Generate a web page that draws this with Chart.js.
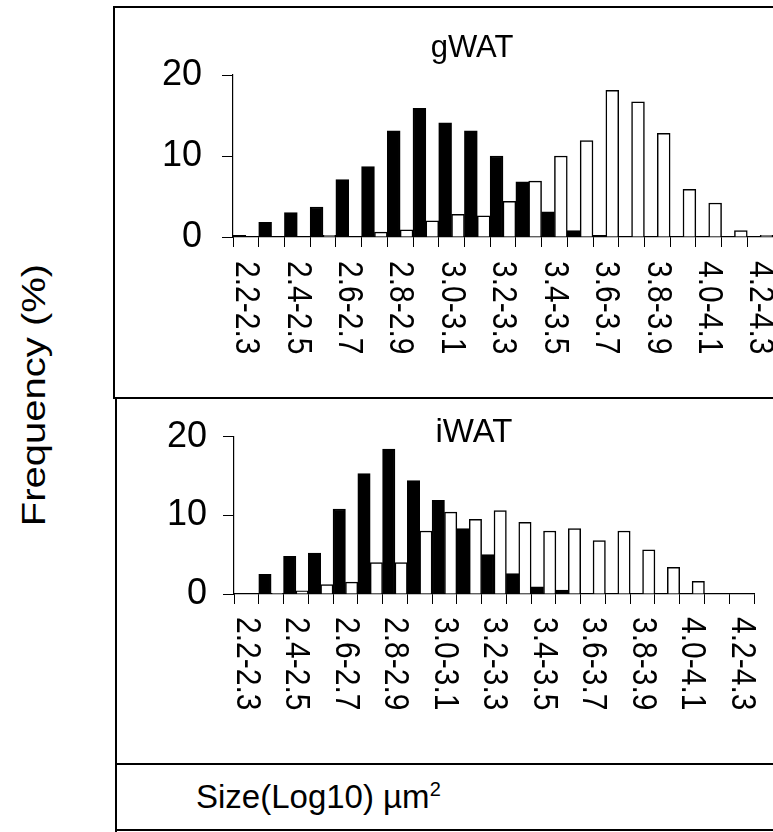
<!DOCTYPE html>
<html>
<head>
<meta charset="utf-8">
<title>Adipocyte size distribution</title>
<script src="https://cdn.jsdelivr.net/npm/chart.js@4.4.1/dist/chart.umd.min.js"></script>
<style>
  body { margin: 0; background: #fff; }
  #page { position: relative; width: 773px; height: 832px; overflow: hidden;
          font-family: "Liberation Sans", Arial, sans-serif; color: #000; }
  .rule { position: absolute; background: #000; }
  canvas { position: absolute; }
  .txt { position: absolute; white-space: nowrap; }
</style>
</head>
<body>
<div id="page">
  <!-- frame -->
  <div class="rule" style="left:113px; top:6px; width:660px; height:2px"></div>
  <div class="rule" style="left:113px; top:6px; width:2px; height:393px"></div>
  <div class="rule" style="left:113px; top:397px; width:660px; height:2px"></div>
  <div class="rule" style="left:115px; top:397px; width:2px; height:435px"></div>
  <div class="rule" style="left:115px; top:763px; width:658px; height:2px"></div>
  <div class="rule" style="left:115px; top:829px; width:658px; height:2px"></div>

  <canvas id="gwatCanvas" width="659" height="389" style="left:115px; top:8px"></canvas>
  <canvas id="iwatCanvas" width="656" height="363" style="left:117px; top:399px"></canvas>

  <div class="txt" style="left:472px; top:31px; font-size:31px; line-height:31px; transform:translateX(-50%)">gWAT</div>
  <div class="txt" style="left:474px; top:414px; font-size:33px; line-height:34px; transform:translateX(-50%)">iWAT</div>
  <div class="txt" style="left:33px; top:395px; font-size:40px; line-height:40px; transform:translate(-50%,-50%) rotate(-90deg) scaleY(0.85)">Frequency (%)</div>
  <div class="txt" style="left:196px; top:780px; font-size:33px; line-height:33px">Size(Log10) µm<sup style="font-size:20px; vertical-align:12px; line-height:0">2</sup></div>
</div>

<script>
const fontFamily = '"Liberation Sans", Arial, sans-serif';

// bins of log10 cell area, every second one is labelled
const binLabels = ['2.2-2.3', '2.3-2.4', '2.4-2.5', '2.5-2.6', '2.6-2.7', '2.7-2.8', '2.8-2.9',
                   '2.9-3.0', '3.0-3.1', '3.1-3.2', '3.2-3.3', '3.3-3.4', '3.4-3.5', '3.5-3.6',
                   '3.6-3.7', '3.7-3.8', '3.8-3.9', '3.9-4.0', '4.0-4.1', '4.1-4.2', '4.2-4.3'];
const labelEvery = 2;
const freqTicks = [0, 10, 20];

// frequency (%) per bin, black and white bars
const gwatBlack = [0.2, 1.8, 3.0, 3.7, 7.1, 8.7, 13.1, 15.9, 14.1, 13.1, 10.0, 6.8, 3.1, 0.8, 0.2, 0, 0, 0, 0, 0, 0];
const gwatWhite = [0, 0, 0, 0.2, 0, 0.6, 0.9, 2.0, 2.8, 2.6, 4.4, 6.9, 10.0, 11.9, 18.1, 16.7, 12.8, 5.9, 4.2, 0.8, 0.2];
const iwatBlack = [0.1, 2.5, 4.8, 5.2, 10.8, 15.3, 18.4, 14.4, 11.9, 8.3, 5.0, 2.6, 0.9, 0.5, 0.1, 0, 0, 0, 0, 0, 0];
const iwatWhite = [0, 0.1, 0.4, 1.2, 1.5, 4.0, 4.0, 8.0, 10.4, 9.5, 10.6, 9.1, 8.0, 8.3, 6.8, 8.0, 5.6, 3.4, 1.6, 0, 0];

// x labels read top to bottom, so draw them ourselves at the category centres
const binLabelPlugin = {
  id: 'binLabels',
  afterDraw(chart, args, opts) {
    const xs = chart.scales.x;
    const ctx = chart.ctx;
    ctx.save();
    ctx.font = '30px ' + fontFamily;
    ctx.fillStyle = '#000';
    ctx.textAlign = 'left';
    ctx.textBaseline = 'middle';
    chart.data.labels.forEach((lbl, i) => {
      if (i % labelEvery) return;
      ctx.save();
      ctx.translate(xs.getPixelForValue(i), xs.top + opts.gap);
      ctx.rotate(Math.PI / 2);
      ctx.scale(1, 1.18); // glyphs a bit wider across than along
      ctx.fillText(lbl, 0, 0);
      ctx.restore();
    });
    ctx.restore();
  }
};

function makePanel(canvasId, black, white, box) {
  return new Chart(document.getElementById(canvasId), {
    type: 'bar',
    data: {
      labels: binLabels,
      datasets: [
        { data: black, backgroundColor: '#000', borderColor: '#000', borderWidth: 1.5 },
        { data: white, backgroundColor: '#fff', borderColor: '#000', borderWidth: 1.5 }
      ]
    },
    options: {
      responsive: false,
      animation: false,
      devicePixelRatio: 1,
      layout: { padding: { top: box.top, right: box.right, left: 0, bottom: 0 } },
      datasets: { bar: { categoryPercentage: 1, barPercentage: 1 } },
      plugins: {
        legend: { display: false },
        tooltip: { enabled: false },
        binLabels: { gap: box.gap }
      },
      scales: {
        x: {
          offset: true,
          grid: { offset: true, drawOnChartArea: false, tickLength: 10, color: '#000', lineWidth: 1 },
          border: { color: '#000', width: 1.2 },
          ticks: { display: false, autoSkip: false },
          afterFit: s => { s.height = box.axisHeight; }
        },
        y: {
          min: 0,
          max: 20,
          grid: { drawOnChartArea: false, tickLength: 11, color: '#000', lineWidth: 1 },
          border: { color: '#000', width: 1.2 },
          ticks: { font: { family: fontFamily, size: 36 }, color: '#000', padding: box.tickPad },
          afterBuildTicks: s => { s.ticks = freqTicks.map(v => ({ value: v })); },
          afterFit: s => { s.width = box.axisWidth; }
        }
      }
    },
    plugins: [binLabelPlugin]
  });
}

makePanel('gwatCanvas', gwatBlack, gwatWhite, { top: 67, right: 1, axisWidth: 118, axisHeight: 160, gap: 24, tickPad: 20 });
makePanel('iwatCanvas', iwatBlack, iwatWhite, { top: 28, right: 19, axisWidth: 117, axisHeight: 168, gap: 23, tickPad: 16 });
</script>
</body>
</html>
